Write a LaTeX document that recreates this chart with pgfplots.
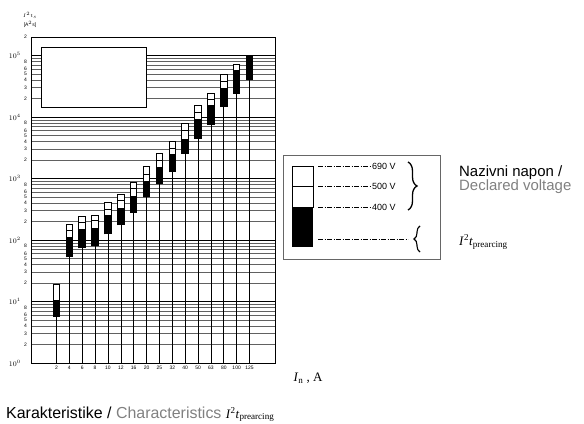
\documentclass[border=0pt]{standalone}
\usepackage{fontspec}
\setmainfont{Liberation Sans}
\newfontfamily\tnr{Liberation Serif}
\usepackage{pgfplots}
\usepackage{pgfplotstable}
\pgfplotsset{compat=1.18}
\usetikzlibrary{decorations.pathreplacing}
\definecolor{txtgray}{HTML}{808080}

% I2t values per rated current: prearcing, total at 400 V, 500 V, 690 V
\pgfplotstableread{
x pre v400 v500 v690
0 5.6 10.7 nan 18.8
1 52 114 143 180
2 73 153 192 240
3 80 159 204 255
4 123 255 316 407
5 175 337 432 556
6 279 526 697 873
7 500 897 1180 1577
8 810 1518 1946 2505
9 1260 2505 3100 3980
10 2500 4400 6010 7740
11 4400 9350 11700 15400
12 7460 15400 19100 24500
13 14500 29700 38000 49000
14 23900 57500 nan 71300
15 40500 98900 nan nan
}\fuses

\begin{document}
\begin{tikzpicture}
\useasboundingbox (0bp,0bp) rectangle (584bp,424bp);
\begin{axis}[
    at={(31bp,61bp)}, anchor=south west,
    scale only axis, width=244bp, height=326bp,
    ymode=log, ymin=1, ymax=2e5,
    xmin=-1.98, xmax=16.98,
    xtick={0,...,15},
    xticklabels={2,4,6,8,10,12,16,20,25,32,40,50,63,80,100,125},
    xticklabel style={font=\fontsize{5}{5}\selectfont, inner sep=1bp, yshift=-2bp},
    ytick={2,3,4,5,6,7,8,9,20,30,40,50,60,70,80,90,200,300,400,500,600,700,800,900,2000,3000,4000,5000,6000,7000,8000,9000,20000,30000,40000,50000,60000,70000,80000,90000,200000},
    yticklabels={2,3,4,5,6,{},8,{},2,3,4,5,6,{},8,{},2,3,4,5,6,{},8,{},2,3,4,5,6,{},8,{},2,3,4,5,6,{},8,{},2},
    yticklabel style={font=\fontsize{5}{5}\selectfont, inner sep=1bp, xshift=-3bp},
    extra y ticks={1,10,100,1000,10000,100000},
    extra y tick labels={$10^0$,$10^1$,$10^2$,$10^3$,$10^4$,$10^5$},
    extra y tick style={
        ymajorgrids=true,
        major grid style={black, line width=0.7bp},
        yticklabel style={font=\fontsize{7}{7}\selectfont, xshift=-6bp}},
    ymajorgrids=true,
    major grid style={black!62, line width=0.5bp},
    major tick length=0pt, minor tick length=0pt,
    axis line style={black, line width=0.7bp},
    unbounded coords=jump,
]
% stems from the bottom up to each bar
\addplot[ycomb, black, line width=0.6bp, mark=none] table[x=x, y=pre]{\fuses};
% black column: prearcing up to the 690 V value
\addplot[black, line width=7.6bp, line cap=butt, mark=none] coordinates {
(0,5.6)(0,18.8)(0,nan) (1,52)(1,180)(1,nan) (2,73)(2,240)(2,nan) (3,80)(3,255)(3,nan)
(4,123)(4,407)(4,nan) (5,175)(5,556)(5,nan) (6,279)(6,873)(6,nan) (7,500)(7,1577)(7,nan)
(8,810)(8,2505)(8,nan) (9,1260)(9,3980)(9,nan) (10,2500)(10,7740)(10,nan) (11,4400)(11,15400)(11,nan)
(12,7460)(12,24500)(12,nan) (13,14500)(13,49000)(13,nan) (14,23900)(14,71300)(14,nan) (15,40500)(15,98900)
};
% white part: 400 V up to 690 V
\addplot[white, line width=5.6bp, line cap=butt, mark=none] coordinates {
(0,10.7)(0,18.8)(0,nan) (1,114)(1,180)(1,nan) (2,153)(2,240)(2,nan) (3,159)(3,255)(3,nan)
(4,255)(4,407)(4,nan) (5,337)(5,556)(5,nan) (6,526)(6,873)(6,nan) (7,897)(7,1577)(7,nan)
(8,1518)(8,2505)(8,nan) (9,2505)(9,3980)(9,nan) (10,4400)(10,7740)(10,nan) (11,9350)(11,15400)(11,nan)
(12,15400)(12,24500)(12,nan) (13,29700)(13,49000)(13,nan) (14,57500)(14,71300)
};
% dividing lines at 500 V and 690 V
\addplot[only marks, mark=-, mark size=3.8bp, mark options={solid, black, line width=1bp, line cap=butt}]
    table[x=x, y=v500]{\fuses};
\addplot[only marks, mark=-, mark size=3.8bp, mark options={solid, black, line width=1bp, line cap=butt}]
    table[x=x, y=v690]{\fuses};
% empty inset box
\draw[black, line width=0.7bp, fill=white] (rel axis cs:0.041,0.785) rectangle (rel axis cs:0.471,0.969);
\end{axis}

% axis titles
\node[font=\fontsize{5}{5}\selectfont] at (30bp,409bp) {$I^2t_s$};
\node[font=\fontsize{5}{5}\selectfont] at (30bp,400bp) {[A$^2$s]};
\node[anchor=west, font=\tnr\fontsize{13}{13}\selectfont] at (290bp,46bp) {\textit{I}\textsubscript{n} , A};
\node[anchor=base west, inner sep=0pt, font=\fontsize{16}{16}\selectfont] at (6bp,6bp)
    {Karakteristike / \textcolor{txtgray}{Characteristics} {\tnr\fontsize{13}{13}\selectfont\textit{I}\textsuperscript{2}\textit{t}\textsubscript{prearcing}}};

% legend
\draw[black!60, line width=0.6bp] (283bp,165bp) rectangle (440bp,269bp);
\fill[black] (292bp,177bp) rectangle (313bp,217bp);
\draw[black, line width=0.7bp] (292bp,217bp) rectangle (313bp,258bp);
\draw[black, line width=0.7bp] (292bp,238bp) -- (313bp,238bp);
\begin{scope}[line width=0.7bp, dash pattern=on 5bp off 1.5bp on 1bp off 1.5bp]
\draw (318bp,258bp) -- (370bp,258bp);
\draw (318bp,238bp) -- (370bp,238bp);
\draw (318bp,217bp) -- (370bp,217bp);
\draw (318bp,185bp) -- (408bp,185bp);
\end{scope}
\node[anchor=west, inner sep=1bp, font=\fontsize{9}{9}\selectfont] at (371bp,258bp) {690 V};
\node[anchor=west, inner sep=1bp, font=\fontsize{9}{9}\selectfont] at (371bp,238bp) {500 V};
\node[anchor=west, inner sep=1bp, font=\fontsize{9}{9}\selectfont] at (371bp,217bp) {400 V};
\draw[decorate, decoration={brace, amplitude=9bp}, line width=1.3bp] (408bp,262bp) -- (408bp,214bp);
\draw[decorate, decoration={brace, amplitude=6bp}, line width=1.1bp] (420bp,172bp) -- (420bp,198bp);

\node[anchor=west, inner sep=0pt, font=\fontsize{15}{15}\selectfont] at (459bp,251bp) {Nazivni napon /};
\node[anchor=west, inner sep=0pt, font=\fontsize{15}{15}\selectfont, text=txtgray] at (459bp,237bp) {Declared voltage};
\node[anchor=west, inner sep=0pt, font=\tnr\fontsize{13}{13}\selectfont] at (459bp,182bp)
    {\textit{I}\textsuperscript{2}\textit{t}\textsubscript{prearcing}};
\end{tikzpicture}
\end{document}
